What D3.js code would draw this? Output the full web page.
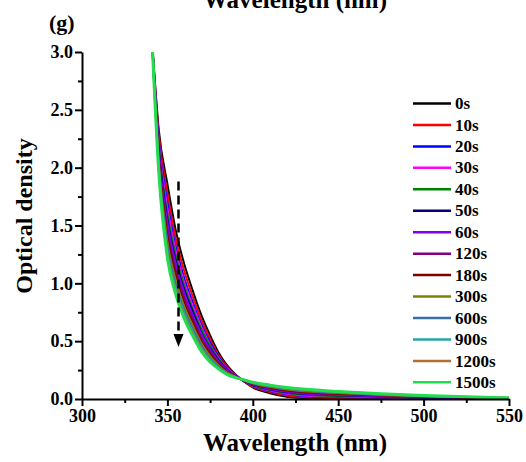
<!DOCTYPE html>
<html>
<head>
<meta charset="utf-8">
<script src="https://cdnjs.cloudflare.com/ajax/libs/d3/7.8.5/d3.min.js"></script>
<style>
  body { margin: 0; background: #fff; }
  text { font-family: "Liberation Serif", "Times New Roman", serif; font-weight: bold; }
</style>
</head>
<body>
<script>
// wavelength grid (nm) shared by all spectra
var wavelengths = [341, 345, 350, 355, 360, 365, 370, 375, 380, 385, 390, 395, 400, 410, 420, 435, 450, 475, 500, 550];

// series names and colours
var seriesNames = ["0s", "10s", "20s", "30s", "40s", "50s", "60s", "120s", "180s", "300s", "600s", "900s", "1200s", "1500s"];
var seriesColors = ["#000000", "#ff0000", "#0000ff", "#ff00ff", "#008000", "#000080", "#8000ff",
                    "#800080", "#800000", "#808000", "#3a6db0", "#25a5a5", "#b5702e", "#22dd50"];

// optical density, one list per series
var od0s    = [3.10, 2.32, 1.86, 1.45, 1.16, 0.93, 0.72, 0.55, 0.400, 0.290, 0.210, 0.150, 0.100, 0.050, 0.020, 0.005, 0.000, 0.000, 0.000, 0.000];
var od10s   = [3.10, 2.28, 1.78, 1.38, 1.10, 0.88, 0.68, 0.52, 0.380, 0.280, 0.208, 0.152, 0.105, 0.060, 0.030, 0.012, 0.008, 0.005, 0.004, 0.001];
var od20s   = [3.10, 2.23, 1.70, 1.31, 1.04, 0.83, 0.64, 0.49, 0.365, 0.270, 0.204, 0.154, 0.111, 0.068, 0.040, 0.020, 0.016, 0.011, 0.008, 0.003];
var od30s   = [3.10, 2.20, 1.65, 1.27, 1.00, 0.80, 0.62, 0.47, 0.354, 0.264, 0.202, 0.155, 0.115, 0.073, 0.046, 0.026, 0.021, 0.015, 0.010, 0.003];
var od40s   = [3.10, 2.17, 1.60, 1.23, 0.97, 0.77, 0.60, 0.46, 0.344, 0.258, 0.200, 0.156, 0.118, 0.078, 0.052, 0.032, 0.026, 0.018, 0.012, 0.004];
var od50s   = [3.10, 2.15, 1.56, 1.19, 0.94, 0.75, 0.57, 0.44, 0.334, 0.252, 0.198, 0.157, 0.121, 0.083, 0.058, 0.038, 0.031, 0.021, 0.014, 0.005];
var od60s   = [3.10, 2.12, 1.52, 1.16, 0.91, 0.72, 0.56, 0.43, 0.326, 0.248, 0.197, 0.158, 0.124, 0.087, 0.062, 0.042, 0.034, 0.024, 0.016, 0.005];
var od120s  = [3.10, 2.09, 1.46, 1.11, 0.87, 0.69, 0.53, 0.41, 0.313, 0.240, 0.195, 0.159, 0.128, 0.093, 0.070, 0.050, 0.040, 0.028, 0.019, 0.006];
var od180s  = [3.10, 2.06, 1.41, 1.07, 0.83, 0.66, 0.50, 0.39, 0.300, 0.234, 0.192, 0.160, 0.132, 0.099, 0.076, 0.056, 0.046, 0.032, 0.021, 0.007];
var od300s  = [3.10, 2.03, 1.36, 1.02, 0.79, 0.63, 0.48, 0.37, 0.290, 0.228, 0.190, 0.162, 0.135, 0.105, 0.082, 0.062, 0.051, 0.035, 0.023, 0.008];
var od600s  = [3.10, 2.01, 1.32, 0.98, 0.76, 0.60, 0.46, 0.35, 0.280, 0.222, 0.189, 0.163, 0.138, 0.110, 0.088, 0.068, 0.055, 0.038, 0.026, 0.009];
var od900s  = [3.10, 1.99, 1.28, 0.95, 0.74, 0.58, 0.44, 0.34, 0.270, 0.218, 0.187, 0.164, 0.140, 0.113, 0.092, 0.072, 0.059, 0.041, 0.027, 0.009];
var od1200s = [3.10, 1.97, 1.25, 0.93, 0.71, 0.56, 0.43, 0.33, 0.265, 0.214, 0.186, 0.165, 0.143, 0.117, 0.096, 0.076, 0.062, 0.043, 0.029, 0.010];
var od1500s = [3.10, 1.95, 1.22, 0.90, 0.69, 0.54, 0.41, 0.32, 0.260, 0.210, 0.185, 0.165, 0.145, 0.120, 0.100, 0.080, 0.065, 0.045, 0.030, 0.010];

var seriesValues = [od0s, od10s, od20s, od30s, od40s, od50s, od60s, od120s, od180s, od300s, od600s, od900s, od1200s, od1500s];

// axis ticks
var xMajorTicks = [300, 350, 400, 450, 500, 550];
var xMinorTicks = [325, 375, 425, 475, 525];
var yMajorTicks = [0.0, 0.5, 1.0, 1.5, 2.0, 2.5, 3.0];
var yMinorTicks = [0.25, 0.75, 1.25, 1.75, 2.25, 2.75];

// arrow: wavelength, start and end optical density
var arrowX = 356.5, arrowFrom = 1.88, arrowTo = 0.45;

var width = 526, height = 462;
var plot = {left: 82, right: 509, top: 52, bottom: 399};

var svg = d3.select("body").append("svg")
    .attr("width", width)
    .attr("height", height);

var x = d3.scaleLinear().domain([300, 550]).range([plot.left, plot.right]);
var y = d3.scaleLinear().domain([0, 3]).range([plot.bottom, plot.top]);

// clip the spectra to the plotting area
svg.append("clipPath").attr("id", "clip")
  .append("rect")
    .attr("x", plot.left).attr("y", plot.top)
    .attr("width", plot.right - plot.left).attr("height", plot.bottom - plot.top);

var line = d3.line()
    .x(function(d) { return x(d[0]); })
    .y(function(d) { return y(d[1]); })
    .curve(d3.curveMonotoneX);

var curves = svg.append("g").attr("clip-path", "url(#clip)");
seriesValues.forEach(function(vals, i) {
    var pts = wavelengths.map(function(w, j) { return [w, vals[j]]; });
    curves.append("path")
        .datum(pts)
        .attr("fill", "none")
        .attr("stroke", seriesColors[i])
        .attr("stroke-width", i === seriesValues.length - 1 ? 3 : 2)
        .attr("d", line);
});

// dashed arrow
svg.append("line")
    .attr("x1", x(arrowX)).attr("x2", x(arrowX))
    .attr("y1", y(arrowFrom)).attr("y2", y(arrowTo) - 10)
    .attr("stroke", "#000")
    .attr("stroke-width", 2.5)
    .attr("stroke-dasharray", "9,5");
svg.append("path")
    .attr("d", "M" + (x(arrowX) - 5) + "," + (y(arrowTo) - 13) +
               "L" + (x(arrowX) + 5) + "," + (y(arrowTo) - 13) +
               "L" + x(arrowX) + "," + y(arrowTo) + "Z")
    .attr("fill", "#000");

// axes
var xAxis = svg.append("g")
    .attr("transform", "translate(0," + plot.bottom + ")")
    .call(d3.axisBottom(x).tickValues(xMajorTicks).tickSize(7).tickSizeOuter(0).tickPadding(3).tickFormat(d3.format("d")));
svg.append("g")
    .attr("transform", "translate(0," + plot.bottom + ")")
    .call(d3.axisBottom(x).tickValues(xMinorTicks).tickSize(4).tickSizeOuter(0).tickFormat(""))
    .select(".domain").remove();

var yAxis = svg.append("g")
    .attr("transform", "translate(" + plot.left + ",0)")
    .call(d3.axisLeft(y).tickValues(yMajorTicks).tickSize(7).tickSizeOuter(0).tickPadding(2).tickFormat(d3.format(".1f")));
svg.append("g")
    .attr("transform", "translate(" + plot.left + ",0)")
    .call(d3.axisLeft(y).tickValues(yMinorTicks).tickSize(4).tickSizeOuter(0).tickFormat(""))
    .select(".domain").remove();

svg.selectAll(".domain").attr("stroke-width", 2);
svg.selectAll(".tick line").attr("stroke-width", 2);
svg.selectAll(".tick text")
    .style("font-size", "18px")
    .attr("fill", "#000");

// axis titles
svg.append("text")
    .attr("x", 295).attr("y", 451)
    .attr("text-anchor", "middle")
    .style("font-size", "25px")
    .text("Wavelength (nm)");

svg.append("text")
    .attr("x", 295).attr("y", 8)
    .attr("text-anchor", "middle")
    .style("font-size", "25px")
    .text("Wavelength (nm)");

svg.append("text")
    .attr("transform", "translate(32,216) rotate(-90)")
    .attr("text-anchor", "middle")
    .style("font-size", "24px")
    .text("Optical density");

svg.append("text")
    .attr("x", 49).attr("y", 30)
    .style("font-size", "22px")
    .text("(g)");

// legend
var legend = svg.append("g");
seriesNames.forEach(function(name, i) {
    var ly = 103.5 + i * 21.45;
    legend.append("line")
        .attr("x1", 413).attr("x2", 451)
        .attr("y1", ly).attr("y2", ly)
        .attr("stroke", seriesColors[i])
        .attr("stroke-width", 2.5);
    legend.append("text")
        .attr("x", 455).attr("y", ly)
        .attr("dy", "0.33em")
        .style("font-size", "17px")
        .text(name);
});
</script>
</body>
</html>
